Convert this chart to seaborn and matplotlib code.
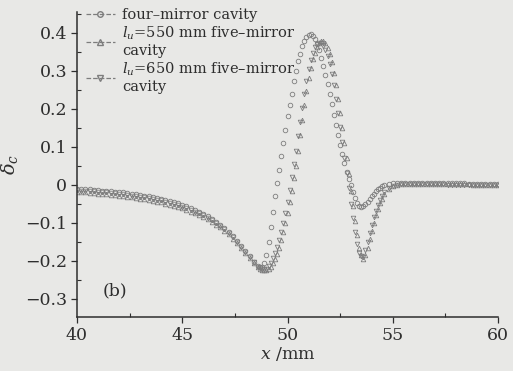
import numpy as np
import pandas as pd
import matplotlib
matplotlib.use("Agg")
import matplotlib.pyplot as plt
from matplotlib.lines import Line2D
from matplotlib.ticker import MultipleLocator
import seaborn as sns

# x positions (mm), coarse grid over the whole range
x_mm = [
    40.0, 40.2, 40.4, 40.6, 40.8, 41.0, 41.2, 41.4, 41.6, 41.8,
    42.0, 42.2, 42.4, 42.6, 42.8, 43.0, 43.2, 43.4, 43.6, 43.8,
    44.0, 44.2, 44.4, 44.6, 44.8, 45.0, 45.2, 45.4, 45.6, 45.8,
    46.0, 46.2, 46.4, 46.6, 46.8, 47.0, 47.2, 47.4, 47.6, 47.8,
    48.0, 48.2, 48.4, 48.6, 48.8, 49.0, 49.2, 49.4, 49.6, 49.8,
    50.0, 50.2, 50.4, 50.6, 50.8, 51.0, 51.2, 51.4, 51.6, 51.8,
    52.0, 52.2, 52.4, 52.6, 52.8, 53.0, 53.2, 53.4, 53.6, 53.8,
    54.0, 54.2, 54.4, 54.6, 54.8, 55.0, 55.2, 55.4, 55.6, 55.8,
    56.0, 56.2, 56.4, 56.6, 56.8, 57.0, 57.2, 57.4, 57.6, 57.8,
    58.0, 58.2, 58.4, 58.6, 58.8, 59.0, 59.2, 59.4, 59.6, 59.8,
    60.0,
]
# extra samples in the oscillation region
x_fine = [
    48.7, 48.9, 49.1, 49.3, 49.5, 49.7, 49.9, 50.1, 50.3, 50.5,
    50.7, 50.9, 51.1, 51.3, 51.5, 51.7, 51.9, 52.1, 52.3, 52.5,
    52.7, 52.9, 53.1, 53.3, 53.5, 53.7, 53.9, 54.1, 54.3, 54.5,
]

four_mirror = [
    -0.010, -0.011, -0.012, -0.012, -0.013, -0.014, -0.015, -0.016, -0.017, -0.018,
    -0.019, -0.020, -0.022, -0.023, -0.025, -0.026, -0.028, -0.030, -0.032, -0.034,
    -0.036, -0.039, -0.042, -0.045, -0.048, -0.052, -0.056, -0.060, -0.065, -0.070,
    -0.076, -0.082, -0.089, -0.097, -0.105, -0.114, -0.124, -0.135, -0.147, -0.160,
    -0.173, -0.188, -0.202, -0.213, -0.215, -0.185, -0.110, -0.030, 0.040, 0.110,
    0.180, 0.240, 0.300, 0.345, 0.378, 0.395, 0.392, 0.370, 0.335, 0.290,
    0.240, 0.185, 0.130, 0.080, 0.035, 0.000, -0.035, -0.055, -0.055, -0.045,
    -0.030, -0.017, -0.007, -0.001, 0.003, 0.005, 0.006, 0.006, 0.006, 0.006,
    0.006, 0.006, 0.005, 0.005, 0.005, 0.005, 0.005, 0.005, 0.004, 0.004,
    0.004, 0.004, 0.004, 0.003, 0.003, 0.003, 0.003, 0.003, 0.002, 0.002,
    0.002,
]
four_mirror_fine = [
    -0.215, -0.205, -0.150, -0.070, 0.005, 0.075, 0.145, 0.210, 0.272, 0.325,
    0.364, 0.389, 0.397, 0.383, 0.354, 0.313, 0.265, 0.212, 0.157, 0.104,
    0.057, 0.016, -0.019, -0.047, -0.058, -0.051, -0.038, -0.023, -0.012, -0.004,
]

five_550 = [
    -0.018, -0.019, -0.020, -0.021, -0.022, -0.023, -0.024, -0.025, -0.026, -0.027,
    -0.028, -0.030, -0.031, -0.033, -0.034, -0.036, -0.038, -0.040, -0.042, -0.044,
    -0.046, -0.049, -0.052, -0.055, -0.058, -0.062, -0.066, -0.070, -0.075, -0.080,
    -0.085, -0.091, -0.098, -0.105, -0.112, -0.120, -0.130, -0.141, -0.153, -0.166,
    -0.179, -0.192, -0.205, -0.216, -0.223, -0.224, -0.215, -0.195, -0.165, -0.125,
    -0.075, -0.015, 0.050, 0.130, 0.210, 0.280, 0.330, 0.362, 0.378, 0.372,
    0.345, 0.295, 0.225, 0.150, 0.070, -0.015, -0.095, -0.165, -0.195, -0.165,
    -0.120, -0.080, -0.048, -0.025, -0.011, -0.004, 0.000, 0.002, 0.003, 0.003,
    0.003, 0.003, 0.003, 0.003, 0.003, 0.003, 0.002, 0.002, 0.002, 0.002,
    0.002, 0.002, 0.002, 0.002, 0.001, 0.001, 0.001, 0.001, 0.001, 0.001,
    0.001,
]
five_550_fine = [
    -0.220, -0.225, -0.221, -0.206, -0.181, -0.146, -0.101, -0.046, 0.017, 0.090,
    0.170, 0.247, 0.307, 0.348, 0.372, 0.378, 0.360, 0.322, 0.262, 0.188,
    0.110, 0.028, -0.055, -0.132, -0.185, -0.185, -0.142, -0.099, -0.063, -0.036,
]

five_650 = [
    -0.014, -0.015, -0.016, -0.016, -0.017, -0.018, -0.019, -0.020, -0.021, -0.022,
    -0.023, -0.025, -0.026, -0.028, -0.029, -0.031, -0.033, -0.035, -0.037, -0.039,
    -0.041, -0.044, -0.047, -0.050, -0.053, -0.057, -0.061, -0.065, -0.070, -0.075,
    -0.080, -0.086, -0.093, -0.101, -0.109, -0.117, -0.127, -0.138, -0.150, -0.163,
    -0.176, -0.190, -0.204, -0.215, -0.222, -0.220, -0.205, -0.180, -0.145, -0.100,
    -0.045, 0.020, 0.090, 0.165, 0.240, 0.305, 0.348, 0.370, 0.372, 0.355,
    0.318, 0.262, 0.190, 0.112, 0.032, -0.050, -0.125, -0.180, -0.190, -0.150,
    -0.105, -0.068, -0.040, -0.020, -0.008, -0.002, 0.001, 0.002, 0.002, 0.002,
    0.002, 0.002, 0.002, 0.002, 0.002, 0.002, 0.002, 0.002, 0.001, 0.001,
    0.001, 0.001, 0.001, 0.001, 0.001, 0.001, 0.001, 0.001, 0.000, 0.000,
    0.000,
]
five_650_fine = [
    -0.219, -0.222, -0.213, -0.193, -0.163, -0.123, -0.073, -0.013, 0.055, 0.128,
    0.203, 0.274, 0.329, 0.362, 0.373, 0.365, 0.338, 0.292, 0.227, 0.152,
    0.072, -0.009, -0.088, -0.155, -0.188, -0.172, -0.127, -0.085, -0.053, -0.029,
]

labels = [
    "four\u2013mirror cavity",
    "$l_u$=550 mm five\u2013mirror\ncavity",
    "$l_u$=650 mm five\u2013mirror\ncavity",
]
markers = ["o", "^", "v"]

series_values = [
    four_mirror + four_mirror_fine,
    five_550 + five_550_fine,
    five_650 + five_650_fine,
]
frames = []
for lab, vals in zip(labels, series_values):
    frames.append(pd.DataFrame({"x": x_mm + x_fine, "delta": vals, "series": lab}))
df = pd.concat(frames, ignore_index=True)

sns.set_style("ticks")
plt.rcParams["font.family"] = ["DejaVu Serif"]
plt.rcParams["mathtext.fontset"] = "dejavuserif"

bg = "#e8e8e6"
ink = "#2e2e2e"
grey = "#7d7d7d"

fig = plt.figure(figsize=(5.13, 3.71), dpi=100, facecolor=bg)
ax = fig.add_axes([0.150, 0.146, 0.821, 0.822])
ax.set_facecolor(bg)

for lab, mk in zip(labels, markers):
    sub = df[df["series"] == lab]
    sns.lineplot(data=sub, x="x", y="delta", ax=ax, linestyle="", marker=mk,
                 color=grey, markerfacecolor="none", markeredgecolor=grey,
                 markersize=3.3, markeredgewidth=0.6, legend=False)

ax.set_xlim(40, 60)
ax.set_ylim(-0.347, 0.455)
ax.xaxis.set_major_locator(MultipleLocator(5))
ax.xaxis.set_minor_locator(MultipleLocator(2.5))
ax.yaxis.set_minor_locator(MultipleLocator(0.05))
ax.set_yticks([-0.3, -0.2, -0.1, 0, 0.1, 0.2, 0.3, 0.4])
ax.set_yticklabels(["\u22120.3", "\u22120.2", "\u22120.1", "0", "0.1", "0.2", "0.3", "0.4"])
ax.tick_params(axis="both", which="major", direction="out", length=4, width=0.9,
               labelsize=12.5, colors=ink, pad=3)
ax.tick_params(axis="both", which="minor", direction="in", length=3, width=0.8, colors=ink)

sns.despine(ax=ax)
for side in ["left", "bottom"]:
    ax.spines[side].set_color(ink)
    ax.spines[side].set_linewidth(1.1)

ax.set_xlabel("$x$ /mm", fontsize=12.5, color=ink, labelpad=1)
ax.set_ylabel(r"$\delta_c$", fontsize=14, color=ink, labelpad=4)

ax.text(0.06, 0.07, "(b)", transform=ax.transAxes, fontsize=12.5, color=ink)

handles = [Line2D([], [], color=grey, linestyle="--", linewidth=0.9, marker=mk,
                  markerfacecolor="none", markeredgecolor=grey, markersize=4)
           for mk in markers]
leg = ax.legend(handles, labels, loc="upper left", bbox_to_anchor=(0.0, 1.04),
                frameon=False, fontsize=10.5, handlelength=2.0, handletextpad=0.5,
                labelspacing=0.15, borderaxespad=0.2)
for t in leg.get_texts():
    t.set_color(ink)

fig.savefig("out.png", dpi=100, facecolor=bg)
